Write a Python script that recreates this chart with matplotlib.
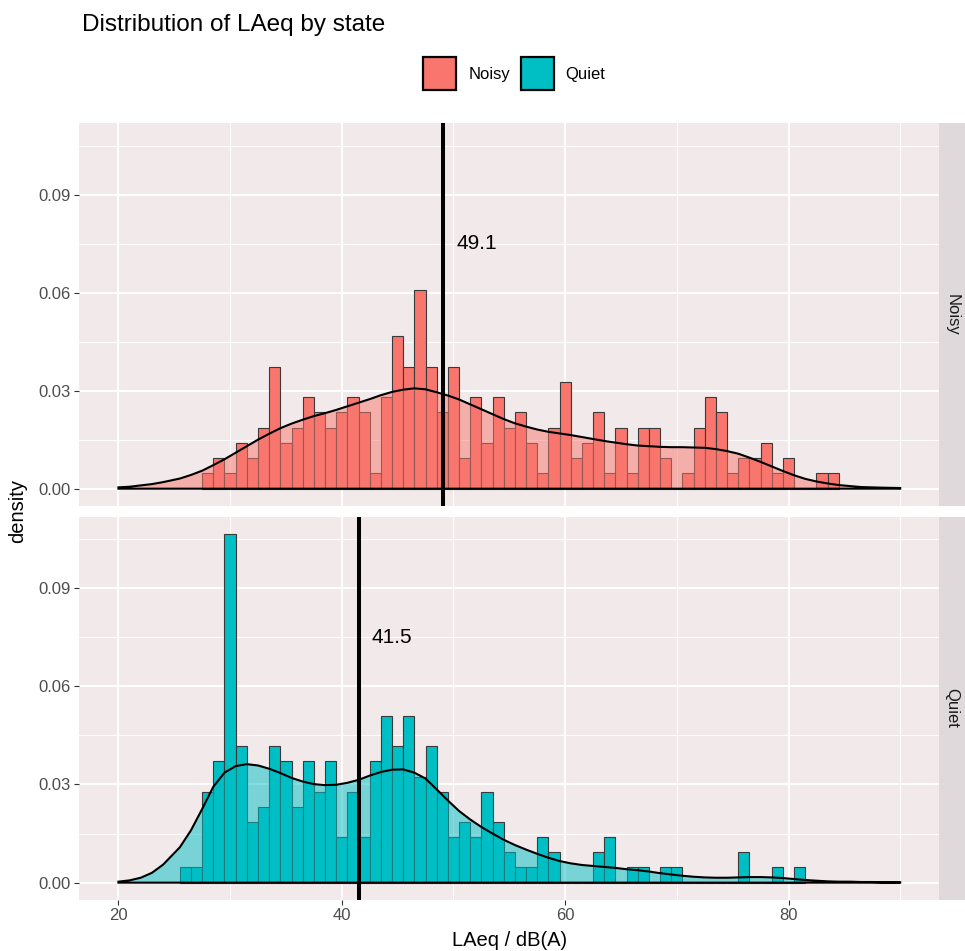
import numpy as np
import matplotlib.pyplot as plt
from matplotlib.patches import Rectangle
from matplotlib.ticker import FixedLocator

plt.rcParams["font.family"] = ["Liberation Sans", "DejaVu Sans"]

# histogram counts per 1 dB bin (bins centred on integers)
noisy_bins = list(range(28, 85))
noisy_counts = [1, 2, 1, 3, 2, 4, 8, 3, 4, 6,
                5, 4, 5, 6, 5, 1, 6, 10, 8, 13,
                8, 5, 8, 2, 6, 3, 6, 4, 5, 3,
                1, 4, 7, 2, 3, 5, 1, 4, 1, 4,
                4, 2, 0, 1, 4, 6, 5, 1, 2, 2,
                3, 1, 2, 0, 0, 1, 1]
quiet_bins = list(range(26, 82))
quiet_counts = [1, 1, 6, 8, 23, 9, 4, 5, 9, 8,
                5, 8, 6, 8, 3, 6, 3, 8, 11, 9,
                11, 7, 9, 6, 3, 4, 3, 6, 4, 2,
                1, 1, 3, 2, 0, 0, 0, 2, 3, 0,
                1, 1, 0, 1, 1, 0, 0, 0, 0, 0,
                2, 0, 0, 1, 0, 1]

# density curves
kde_x = np.concatenate([[20, 21, 22, 23, 24], np.arange(25.5, 89, 1.0), [90]])
noisy_kde = [0.0004, 0.0006, 0.0010, 0.0014, 0.0020,
             0.0031, 0.0042, 0.0055, 0.0072, 0.0090, 0.0110, 0.0130, 0.0150, 0.0168, 0.0185,
             0.0199, 0.0211, 0.0222, 0.0231, 0.0241, 0.0252, 0.0263, 0.0274, 0.0286, 0.0296,
             0.0303, 0.0307, 0.0304, 0.0295, 0.0285, 0.0273, 0.0258, 0.0243, 0.0228, 0.0213,
             0.0200, 0.0190, 0.0181, 0.0174, 0.0169, 0.0164, 0.0158, 0.0152, 0.0146, 0.0141,
             0.0136, 0.0132, 0.0130, 0.0128, 0.0127, 0.0127, 0.0126, 0.0125, 0.0121, 0.0115,
             0.0107, 0.0095, 0.0082, 0.0068, 0.0054, 0.0041, 0.0030, 0.0022, 0.0016, 0.0011,
             0.0008, 0.0005, 0.0004, 0.0003,
             0.0002]
quiet_kde = [0.0003, 0.0007, 0.0015, 0.0030, 0.0055,
             0.0108, 0.0160, 0.0225, 0.0293, 0.0336, 0.0356, 0.0362, 0.0358, 0.0348, 0.0335,
             0.0320, 0.0309, 0.0301, 0.0298, 0.0299, 0.0305, 0.0314, 0.0327, 0.0338, 0.0345,
             0.0346, 0.0336, 0.0318, 0.0285, 0.0251, 0.0219, 0.0193, 0.0170, 0.0150, 0.0131,
             0.0115, 0.0101, 0.0088, 0.0076, 0.0066, 0.0059, 0.0054, 0.0051, 0.0048, 0.0045,
             0.0041, 0.0038, 0.0034, 0.0029, 0.0025, 0.0021, 0.0018, 0.0016, 0.0015, 0.0015,
             0.0016, 0.0017, 0.0017, 0.0016, 0.0014, 0.0011, 0.0008, 0.0006, 0.0004, 0.0003,
             0.0003, 0.0002, 0.0002, 0.0001,
             0.0001]

states = ["Noisy", "Quiet"]
means = [49.1, 41.5]
colors = ["#F8766D", "#00BFC4"]

W, H = 965, 951
fig = plt.figure(figsize=(W / 100, H / 100), dpi=100)

panel_bg = "#F1E9EA"
strip_bg = "#E0D9DB"
left, right = 79.3, 939.3
panels = [(123.3, 506.0), (516.7, 900.0)]

data = [(noisy_bins, noisy_counts, noisy_kde), (quiet_bins, quiet_counts, quiet_kde)]

for i, (state, mean, col, (bins, counts, kde)) in enumerate(zip(states, means, colors, data)):
    top, bot = panels[i]
    ax = fig.add_axes([left / W, 1 - bot / H, (right - left) / W, (bot - top) / H])
    ax.set_facecolor(panel_bg)
    for s in ax.spines.values():
        s.set_visible(False)
    ax.set_axisbelow(True)

    dens = np.array(counts) / sum(counts)
    ax.bar(bins, dens, width=1.0, color=col, edgecolor="#3a3a3a", linewidth=0.8, zorder=2)

    px = np.concatenate([[kde_x[0]], kde_x, [kde_x[-1]]])
    py = np.concatenate([[0], kde, [0]])
    ax.fill(px, py, facecolor=col, alpha=0.5, edgecolor="none", zorder=3)
    ax.fill(px, py, facecolor="none", edgecolor="black", linewidth=1.5, zorder=4)

    ax.axvline(mean, color="black", linewidth=2.9, zorder=5)
    ax.text(mean + 3, 0.075, f"{mean:.1f}", ha="center", va="center", fontsize=15, zorder=6)

    ax.set_xlim(16.5, 93.5)
    ax.set_ylim(-0.0053, 0.1118)
    ax.xaxis.set_major_locator(FixedLocator([20, 40, 60, 80]))
    ax.xaxis.set_minor_locator(FixedLocator([30, 50, 70, 90]))
    ax.yaxis.set_major_locator(FixedLocator([0, 0.03, 0.06, 0.09]))
    ax.yaxis.set_minor_locator(FixedLocator([0.015, 0.045, 0.075, 0.105]))
    ax.set_yticklabels(["0.00", "0.03", "0.06", "0.09"])
    ax.grid(which="major", color="white", linewidth=1.4)
    ax.grid(which="minor", color="white", linewidth=0.7)
    ax.tick_params(which="major", length=3.6, width=0.8, color="#333333",
                   labelcolor="#4D4D4D", labelsize=12, pad=2.5)
    ax.tick_params(which="minor", length=0)
    if i == 0:
        ax.tick_params(axis="x", which="both", bottom=False, labelbottom=False)

    # facet strip
    sax = fig.add_axes([right / W, 1 - bot / H, (W - right) / W, (bot - top) / H])
    sax.set_facecolor(strip_bg)
    sax.set_xticks([])
    sax.set_yticks([])
    for s in sax.spines.values():
        s.set_visible(False)
    sax.text(0.5, 0.5, state, rotation=-90, ha="center", va="center",
             fontsize=12, color="#1A1A1A", transform=sax.transAxes)

# titles
fig.text(81.5 / W, 1 - 31.5 / H, "Distribution of LAeq by state", fontsize=17.5,
         ha="left", va="baseline")
fig.text(509.5 / W, 1 - 940 / H, "LAeq / dB(A)", fontsize=14.5, ha="center", va="center")
fig.text(18 / W, 1 - 511 / H, "density", fontsize=14.5, ha="center", va="center",
         rotation=90)

# legend
key_x = [422.7, 521.0]
txt_x = [468.3, 565.0]
for kx, tx, lab, col in zip(key_x, txt_x, states, colors):
    fig.add_artist(Rectangle((kx / W, 1 - 90.3 / H), 33 / W, 33 / H, facecolor=col,
                             edgecolor="black", linewidth=1.6, transform=fig.transFigure))
    fig.text(tx / W, 1 - 74 / H, lab, fontsize=12, ha="left", va="center")

fig.savefig("out.png", dpi=100)
